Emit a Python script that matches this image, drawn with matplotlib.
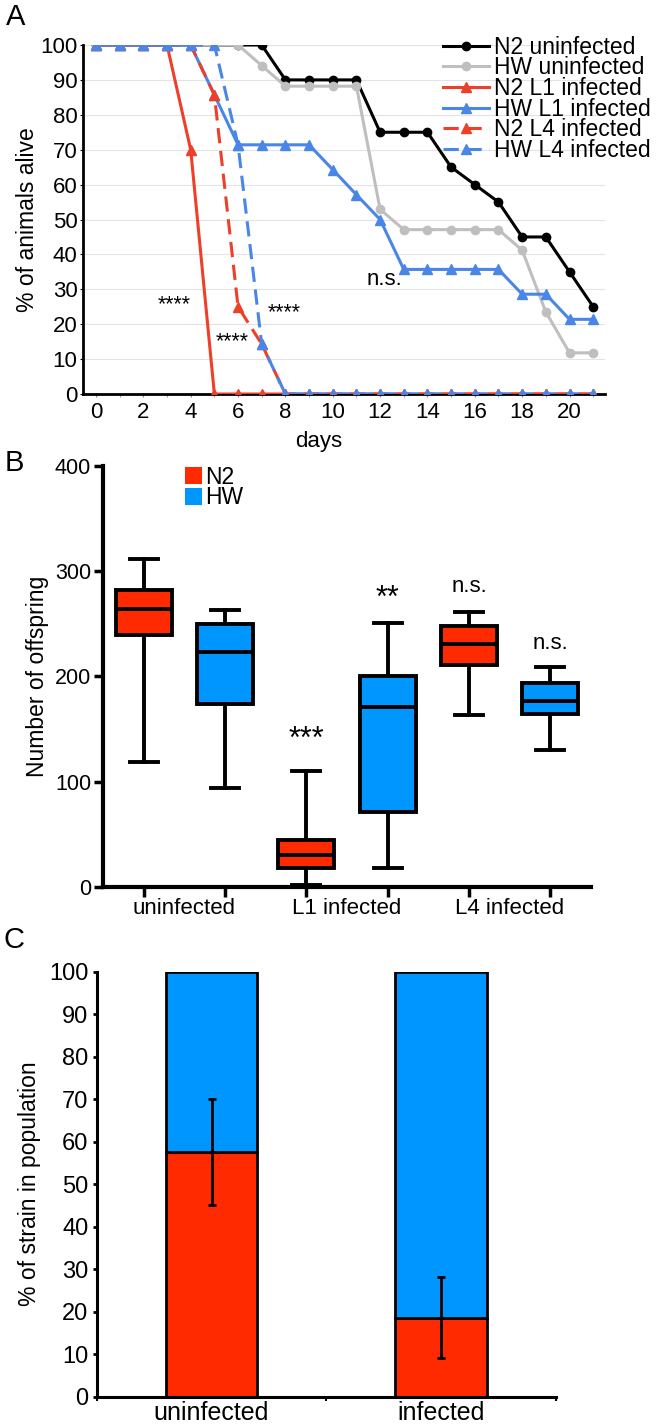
# coding: utf-8
import matplotlib
matplotlib.use('Agg')
import matplotlib.pyplot as plt
from matplotlib.patches import Patch
import numpy as np

plt.rcParams['font.family'] = ['Liberation Sans', 'DejaVu Sans']

##### Panel A - survival curves (% of animals alive per day)
days = np.arange(0, 22)
n2_uninf = [100, 100, 100, 100, 100, 100, 100, 100, 90, 90, 90, 90, 75, 75, 75, 65, 60, 55, 45, 45, 35, 25]
hw_uninf = [100, 100, 100, 100, 100, 100, 100, 94.1, 88.2, 88.2, 88.2, 88.2, 52.9, 47.1, 47.1, 47.1, 47.1, 47.1,
            41.2, 23.5, 11.8, 11.8]
n2_l1 = [100, 100, 100, 100, 70, 0, 0, 0, 0, 0, 0, 0, 0, 0, 0, 0, 0, 0, 0, 0, 0, 0]
hw_l1 = [100, 100, 100, 100, 100, 85.7, 71.4, 71.4, 71.4, 71.4, 64.3, 57.1, 50, 35.7, 35.7, 35.7, 35.7, 35.7,
         28.6, 28.6, 21.4, 21.4]
n2_l4 = [100, 100, 100, 100, 100, 85.7, 25, 14.3, 0, 0, 0, 0, 0, 0, 0, 0, 0, 0, 0, 0, 0, 0]
hw_l4 = [100, 100, 100, 100, 100, 100, 71.4, 14.3, 0, 0, 0, 0, 0, 0, 0, 0, 0, 0, 0, 0, 0, 0]
sig_a_text = ['****', '****', '****', 'n.s.']
sig_a_x = [3.3, 5.75, 7.95, 12.2]
sig_a_y = [25.5, 15, 23.3, 32.7]

##### Panel B - number of offspring (box plots)
groups_b = ['uninfected', 'L1 infected', 'L4 infected']
whislo = [119, 94, 2, 18, 163, 130]
q1 = [239, 174, 18, 71, 211, 164]
med = [264, 223, 30, 171, 231, 177]
q3 = [282, 250, 45, 200, 248, 194]
whishi = [312, 263, 110, 251, 261, 209]
strain_b = ['N2', 'HW', 'N2', 'HW', 'N2', 'HW']
sig_b_text = ['***', '**', 'n.s.', 'n.s.']
sig_b_pos = [3, 4, 5, 6]
sig_b_y = [140, 274, 285, 231]

##### Panel C - competition (% of strain in population)
groups_c = ['uninfected', 'infected']
n2_frac = [57.6, 18.6]
n2_err = [12.4, 9.5]

red_a = '#ee3f2a'
blue_a = '#4a86e8'
red = '#ff2a00'
blue = '#0096ff'

fig = plt.figure(figsize=(6.58, 14.24), dpi=100)

# ---------------- A
ax1 = fig.add_axes([0.1261, 0.7233, 0.7934, 0.2451])
for yy in range(10, 101, 10):
    ax1.axhline(yy, color='#e3e3e3', lw=0.8, zorder=0)
lw = 2.2
ax1.plot(days, n2_uninf, '-o', color='black', lw=lw, ms=6, label='N2 uninfected', zorder=2)
ax1.plot(days, hw_uninf, '-o', color='#bfbfbf', lw=lw, ms=6, label='HW uninfected', zorder=3)
ax1.plot(days, n2_l1, '-^', color=red_a, lw=lw, ms=6.5, label='N2 L1 infected', zorder=4)
ax1.plot(days, hw_l1, '-^', color=blue_a, lw=lw, ms=6.5, label='HW L1 infected', zorder=5)
ax1.plot(days, n2_l4, '--^', color=red_a, lw=lw, ms=6.5, dashes=(5, 2.5), label='N2 L4 infected', zorder=6)
ax1.plot(days, hw_l4, '--^', color=blue_a, lw=lw, ms=6.5, dashes=(5, 2.5), label='HW L4 infected', zorder=7)
for t, x, y in zip(sig_a_text, sig_a_x, sig_a_y):
    ax1.text(x, y, t, ha='center', va='center', fontsize=16 if t == 'n.s.' else 15.5)
ax1.set_xlim(-0.55, 21.5)
ax1.set_ylim(0, 100)
ax1.set_xticks(range(0, 21, 2))
ax1.set_xticks(range(0, 22), minor=True)
ax1.set_yticks(range(0, 101, 10))
ax1.tick_params(axis='both', which='major', labelsize=16, length=2, pad=2)
ax1.tick_params(axis='x', which='both', length=2, color='#888888', pad=4)
for s in ['top', 'right']:
    ax1.spines[s].set_visible(False)
for s in ['left', 'bottom']:
    ax1.spines[s].set_linewidth(2)
ax1.set_xlabel('days', fontsize=16)
ax1.xaxis.set_label_coords(0.452, -0.105)
ax1.set_ylabel('% of animals alive', fontsize=16.5, labelpad=1)
leg = ax1.legend(loc='upper left', bbox_to_anchor=(0.673, 0.975), bbox_transform=fig.transFigure,
                 frameon=False, fontsize=16.5, labelspacing=-0.1, handlelength=2.0, handletextpad=0.22,
                 borderpad=0, borderaxespad=0)
fig.text(0.024, 0.988, 'A', fontsize=21, ha='center', va='center')

# ---------------- B
ax2 = fig.add_axes([0.1565, 0.3771, 0.7417, 0.2957])
stats = []
for i in range(len(med)):
    stats.append(dict(med=med[i], q1=q1[i], q3=q3[i], whislo=whislo[i], whishi=whishi[i]))
pos = np.arange(1, len(med) + 1)
bp = ax2.bxp(stats, positions=pos, widths=0.69, capwidths=0.345, showfliers=False, patch_artist=True,
             boxprops=dict(linewidth=2.8, edgecolor='black'),
             medianprops=dict(color='black', linewidth=2.8),
             whiskerprops=dict(color='black', linewidth=2.8),
             capprops=dict(color='black', linewidth=2.8))
for patch, st in zip(bp['boxes'], strain_b):
    patch.set_facecolor(red if st == 'N2' else blue)
for t, p, y in zip(sig_b_text, sig_b_pos, sig_b_y):
    ax2.text(p, y, t, ha='center', va='center', fontsize=16 if t == 'n.s.' else 22)
ax2.set_xlim(0.5, 6.5)
ax2.set_ylim(0, 400)
ax2.set_yticks(range(0, 401, 100))
ax2.set_xticks(pos)
ax2.set_xticklabels([])
ax2.set_xticks([1.5, 3.5, 5.5], minor=True)
ax2.set_xticklabels(groups_b, minor=True)
ax2.tick_params(axis='x', which='major', length=7, width=2.5)
ax2.tick_params(axis='x', which='minor', length=0, pad=8, labelsize=16)
ax2.tick_params(axis='y', length=6.5, width=2.5, pad=2, labelsize=15.5)
for s in ['top', 'right']:
    ax2.spines[s].set_visible(False)
for s in ['left', 'bottom']:
    ax2.spines[s].set_linewidth(3)
ax2.set_ylabel('Number of offspring', fontsize=16.5, labelpad=4)
ax2.legend(handles=[Patch(facecolor=red, label='N2'), Patch(facecolor=blue, label='HW')],
           loc='upper left', bbox_to_anchor=(0.281, 0.673), bbox_transform=fig.transFigure,
           frameon=False, fontsize=16.5, labelspacing=-0.1, handlelength=0.75, handleheight=0.8,
           handletextpad=0.15, borderpad=0, borderaxespad=0)
fig.text(0.022, 0.675, 'B', fontsize=21, ha='center', va='center')

# ---------------- C
ax3 = fig.add_axes([0.147, 0.01917, 0.698, 0.2985])
xc = np.arange(1, len(groups_c) + 1)
hw_frac = [100 - v for v in n2_frac]
ax3.bar(xc, n2_frac, width=0.4, color=red, edgecolor='black', linewidth=2)
ax3.bar(xc, hw_frac, width=0.4, bottom=n2_frac, color=blue, edgecolor='black', linewidth=2)
ax3.errorbar(xc, n2_frac, yerr=n2_err, fmt='none', ecolor='black', elinewidth=2, capsize=3, capthick=2)
ax3.set_xlim(0.5, 2.5)
ax3.set_ylim(0, 100)
ax3.set_yticks(range(0, 101, 10))
ax3.set_xticks([0.5, 1.5, 2.5])
ax3.set_xticklabels([])
ax3.set_xticks(xc, minor=True)
ax3.set_xticklabels(groups_c, minor=True)
ax3.tick_params(axis='x', which='major', length=3, width=1.5)
ax3.tick_params(axis='x', which='minor', length=0, pad=3, labelsize=18)
ax3.tick_params(axis='y', length=3, width=2, pad=3, labelsize=17)
for s in ['top', 'right']:
    ax3.spines[s].set_visible(False)
for s in ['left', 'bottom']:
    ax3.spines[s].set_linewidth(2.2)
ax3.set_ylabel('% of strain in population', fontsize=16.5, labelpad=6)
fig.text(0.022, 0.34, 'C', fontsize=21, ha='center', va='center')

fig.savefig('out.png', dpi=100)
